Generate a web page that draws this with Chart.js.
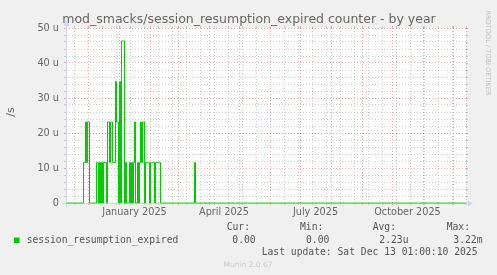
<!DOCTYPE html>
<html><head><meta charset="utf-8">
<script src="https://cdn.jsdelivr.net/npm/chart.js@4"></script>
<style>html,body{margin:0;padding:0;background:#f0f0f0;}canvas{display:block;}</style>
</head><body>
<canvas id="c" width="497" height="275"></canvas>
<script>
// ---- data ----
const titleText = 'mod_smacks/session_resumption_expired counter - by year';
const seriesName = 'session_resumption_expired';
const rangeStart = '2024-11-09';   // left edge of the plot
const rangeDays = 400;             // one pixel per day
// daily rate in µ/s (1 event/day = 11.57 u)
const burstStart = '2024-11-26';
const burstRate = [
  11.57, 11.57, 23.15, 11.57, 23.15, 23.15, 0, 0, 0, 0, 0, 0, 0,
  11.57, 11.57, 0, 11.57, 0, 11.57, 0, 11.57, 11.57, 11.57, 0,
  23.15, 23.15, 11.57, 23.15, 23.15, 11.57, 11.57, 11.57,
  34.72, 23.15, 23.15, 0, 34.72, 0, 46.30, 46.30, 46.30, 0,
  11.57, 0, 0, 0, 11.57, 0, 11.57, 0, 11.57, 23.15, 0, 0,
  11.57, 0, 11.57, 23.15, 11.57, 23.15, 23.15, 0,
  11.57, 11.57, 11.57, 11.57, 0, 11.57, 11.57, 11.57, 11.57, 0,
  11.57, 11.57, 11.57, 11.57, 11.57, 0
];
const lateDates = ['2025-03-17'];
const lateRate = [11.57];
const yTickValues = [0, 10, 20, 30, 40, 50];
const yTickLabels = ['0', '10 u', '20 u', '30 u', '40 u', '50 u'];
const monthStarts = ['2024-12-01','2025-01-01','2025-02-01','2025-03-01','2025-04-01','2025-05-01',
  '2025-06-01','2025-07-01','2025-08-01','2025-09-01','2025-10-01','2025-11-01','2025-12-01'];
const labelMonths = [['2025-01-01','2025-02-01'],['2025-04-01','2025-05-01'],['2025-07-01','2025-08-01'],['2025-10-01','2025-11-01']];
const xLabels = ['January 2025', 'April 2025', 'July 2025', 'October 2025'];
const legendHeads = ['Cur:', 'Min:', 'Avg:', 'Max:'];
const legendValues = ['0.00', '0.00', '2.23u', '3.22m'];
const lastUpdate = 'Last update: Sat Dec 13 01:00:10 2025';
const versionText = 'Munin 2.0.67';
const sideText = 'RRDTOOL / TOBI OETIKER';

// ---- helpers ----
function dayOf(s) {
  const [y, m, d] = s.split('-').map(Number);
  const [y0, m0, d0] = rangeStart.split('-').map(Number);
  return (Date.UTC(y, m - 1, d) - Date.UTC(y0, m0 - 1, d0)) / 86400000;
}
const daily = new Array(rangeDays + 1).fill(0);
const b0 = dayOf(burstStart);
burstRate.forEach((v, i) => { daily[b0 + i] = v; });
lateDates.forEach((s, i) => { daily[dayOf(s)] = lateRate[i]; });
// each day is plotted from the middle of its pixel column
const points = daily.map((v, d) => ({ x: Math.min(d + 0.5, rangeDays), y: v }));

const monthDays = monthStarts.map(dayOf);
const labelDays = labelMonths.map(([a, b]) => (dayOf(a) + dayOf(b)) / 2);
const minorDays = [];
for (let d = 8; d <= rangeDays; d += 14) if (!monthDays.some(m => Math.abs(m - d) < 1)) minorDays.push(d);

const RED = 'rgba(222,79,79,0.45)';
const GRAY = 'rgba(143,143,143,0.4)';
const AXIS = '#CFD6F8';
const FONT = '#666666';

const munin = {
  id: 'munin',
  beforeDraw(chart) {
    const { ctx, chartArea: a } = chart;
    ctx.save();
    ctx.fillStyle = '#f0f0f0';
    ctx.fillRect(0, 0, chart.width, chart.height);
    ctx.fillStyle = '#ffffff';
    ctx.fillRect(a.left, a.top, a.right - a.left, a.bottom - a.top);
    ctx.restore();
  },
  beforeDatasetsDraw(chart) {
    const { ctx, chartArea: a, scales } = chart;
    ctx.save();
    ctx.lineWidth = 1;
    scales.x.ticks.forEach(t => {
      if (t.kind === 'label') return;
      const px = Math.round(scales.x.getPixelForValue(t.value)) + 0.5;
      ctx.strokeStyle = t.kind === 'month' ? RED : GRAY;
      ctx.beginPath(); ctx.moveTo(px, a.top - 2); ctx.lineTo(px, a.top); ctx.stroke();
    });
    scales.y.ticks.forEach(t => {
      const py = Math.round(scales.y.getPixelForValue(t.value)) + 0.5;
      ctx.strokeStyle = t.value % 10 === 0 ? RED : GRAY;
      ctx.beginPath(); ctx.moveTo(a.right, py); ctx.lineTo(a.right + 2, py); ctx.stroke();
    });
    ctx.strokeStyle = AXIS; ctx.fillStyle = AXIS;
    ctx.beginPath();
    ctx.moveTo(a.left - 4, a.bottom + 0.5); ctx.lineTo(a.right + 4, a.bottom + 0.5);
    ctx.moveTo(a.left + 0.5, a.bottom + 4); ctx.lineTo(a.left + 0.5, a.top - 4);
    ctx.stroke();
    ctx.beginPath();
    ctx.moveTo(a.right + 2, a.bottom - 2.5); ctx.lineTo(a.right + 2, a.bottom + 3.5); ctx.lineTo(a.right + 7, a.bottom + 0.5);
    ctx.closePath(); ctx.fill();
    ctx.beginPath();
    ctx.moveTo(a.left - 2.5, a.top - 2); ctx.lineTo(a.left + 3.5, a.top - 2); ctx.lineTo(a.left + 0.5, a.top - 7);
    ctx.closePath(); ctx.fill();
    ctx.restore();
  },
  afterDraw(chart) {
    const { ctx } = chart;
    ctx.save();
    ctx.fillStyle = FONT;
    ctx.textBaseline = 'alphabetic';
    ctx.font = '12.5px "DejaVu Sans"';
    ctx.textAlign = 'center';
    ctx.fillText(titleText, 249, 23);
    ctx.save();
    ctx.translate(11, 112);
    ctx.rotate(-Math.PI / 2);
    ctx.font = '11px "DejaVu Sans"';
    ctx.textBaseline = 'middle';
    ctx.fillText('/s', 0, 0);
    ctx.restore();
    ctx.save();
    ctx.translate(488, 53);
    ctx.rotate(Math.PI / 2);
    ctx.font = '6.6px "DejaVu Sans"';
    ctx.textBaseline = 'middle';
    ctx.fillStyle = '#bdbdbd';
    ctx.fillText(sideText, 0, 0);
    ctx.restore();
    ctx.textAlign = 'left';
    ctx.font = '9.7px "DejaVu Sans Mono"';
    ctx.fillStyle = '#555555';
    const headX = [226.7, 300, 372.7, 446.7];
    const valX = [232.3, 306, 379.3, 453.3];
    legendHeads.forEach((h, i) => ctx.fillText(h, headX[i], 230));
    legendValues.forEach((v, i) => ctx.fillText(v, valX[i], 242.7));
    ctx.fillText(seriesName, 26.7, 242.7);
    ctx.fillText(lastUpdate, 261.7, 254.5);
    ctx.fillStyle = '#00cc00';
    ctx.fillRect(14, 237.5, 5.5, 5.5);
    ctx.font = '7.5px "DejaVu Sans"';
    ctx.textAlign = 'center';
    ctx.fillStyle = '#c8c8c8';
    ctx.fillText(versionText, 248, 267);
    ctx.restore();
  }
};

new Chart(document.getElementById('c'), {
  type: 'line',
  data: {
    datasets: [{
      label: seriesName,
      data: points,
      borderColor: '#00cc00',
      borderWidth: 1,
      pointRadius: 0,
      stepped: true,
      fill: false,
      clip: false
    }]
  },
  options: {
    responsive: false,
    animation: false,
    devicePixelRatio: 1,
    layout: { padding: { left: 0, right: 31, top: 28, bottom: 52 } },
    plugins: { legend: { display: false }, title: { display: false }, tooltip: { enabled: false } },
    scales: {
      x: {
        type: 'linear', min: 0, max: rangeDays,
        afterFit(s) { s.height = 20; },
        afterBuildTicks(s) {
          const t = [];
          minorDays.forEach(v => t.push({ value: v, kind: 'minor' }));
          monthDays.forEach(v => t.push({ value: v, kind: 'month' }));
          labelDays.forEach((v, i) => t.push({ value: v, kind: 'label', text: xLabels[i] }));
          t.sort((p, q) => p.value - q.value);
          s.ticks = t;
        },
        ticks: {
          autoSkip: false, maxRotation: 0, padding: 2,
          color: FONT, font: { family: 'DejaVu Sans', size: 9.7 },
          callback(v, i, ticks) { return ticks[i].kind === 'label' ? ticks[i].text : ''; }
        },
        grid: {
          lineWidth: 1, drawTicks: true, tickLength: 2,
          color: c => c.tick.kind === 'month' ? RED : c.tick.kind === 'minor' ? GRAY : 'rgba(0,0,0,0)',
          tickColor: c => c.tick.kind === 'month' ? RED : c.tick.kind === 'minor' ? GRAY : 'rgba(0,0,0,0)'
        },
        border: { display: false, dash: [1, 2] }
      },
      y: {
        min: 0, max: 50,
        afterFit(s) { s.width = 66; },
        afterBuildTicks(s) {
          const t = [];
          for (let v = 0; v <= 50; v += 2) t.push({ value: v });
          s.ticks = t;
        },
        ticks: {
          autoSkip: false, padding: 5, color: FONT, font: { family: 'DejaVu Sans', size: 9.7 },
          callback(v) { const k = yTickValues.indexOf(v); return k >= 0 ? yTickLabels[k] : ''; }
        },
        grid: {
          lineWidth: 1, drawTicks: true, tickLength: 2,
          color: c => c.tick.value % 10 === 0 ? RED : GRAY,
          tickColor: c => c.tick.value % 10 === 0 ? RED : GRAY
        },
        border: { display: false, dash: [1, 2] }
      }
    }
  },
  plugins: [munin]
});
</script>
</body></html>
